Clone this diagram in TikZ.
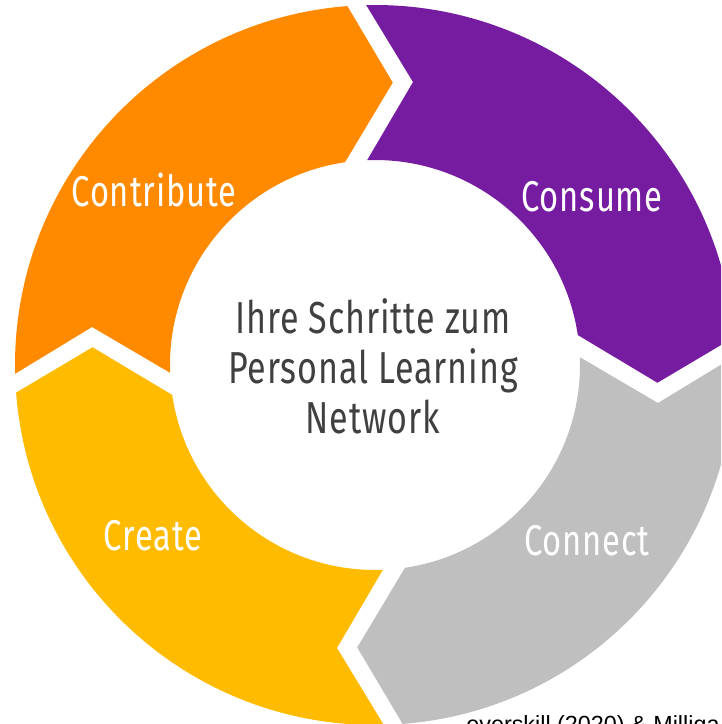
\documentclass[tikz,border=0pt]{standalone}
\usepackage{fontspec}
\setmainfont{Liberation Sans}
\newfontfamily\condfont[FakeStretch=0.76, LetterSpace=2.0]{Fira Sans}
\usetikzlibrary{positioning}

\definecolor{contribcol}{HTML}{FF8A00}
\definecolor{consumecol}{HTML}{761CA1}
\definecolor{connectcol}{HTML}{BFBFBF}
\definecolor{createcol}{HTML}{FFBB00}
\definecolor{hubcol}{HTML}{404040}

\begin{document}
\begin{tikzpicture}[
    x=0.02cm, y=0.02cm,
    phase/.style={text=white, font=\condfont\fontsize{24.5}{28}\selectfont, inner sep=0pt},
    hub/.style={text=hubcol, align=center, font=\condfont\fontsize{25.5}{28.4}\selectfont, inner sep=0pt},
    source/.style={text=black, font=\fontsize{13.3}{16}\selectfont, inner sep=0pt, anchor=base west}
]

% Frame
\useasboundingbox (-375,-359) rectangle (346,365);
\clip (-375,-359) rectangle (346,365);

% Ring segments (clockwise, each ends in a chevron)
\foreach \rot/\col in {0/consumecol, -90/connectcol, -180/createcol, -270/contribcol}{
  \fill[\col, rotate=\rot] (91.4:360) arc[start angle=91.4, end angle=4.4, radius=360]
    -- (-3.6:283) -- (8.4:205) arc[start angle=8.4, end angle=92.2, radius=205]
    -- (82.35:285.5) -- cycle;
}

% Labels
\node[phase] (contribute) at (-221,175) {Contribute};
\node[phase] (consume) at (217,168) {Consume};
\node[phase] (connect) at (212,-176) {Connect};
\node[phase] (create) at (-222,-171) {Create};

\node[hub] (steps) at (-2,-1) {Ihre Schritte zum\\Personal Learning\\Network};

\node[source] (credit) at (91,-367) {everskill (2020) \& Milliga};

\end{tikzpicture}
\end{document}
